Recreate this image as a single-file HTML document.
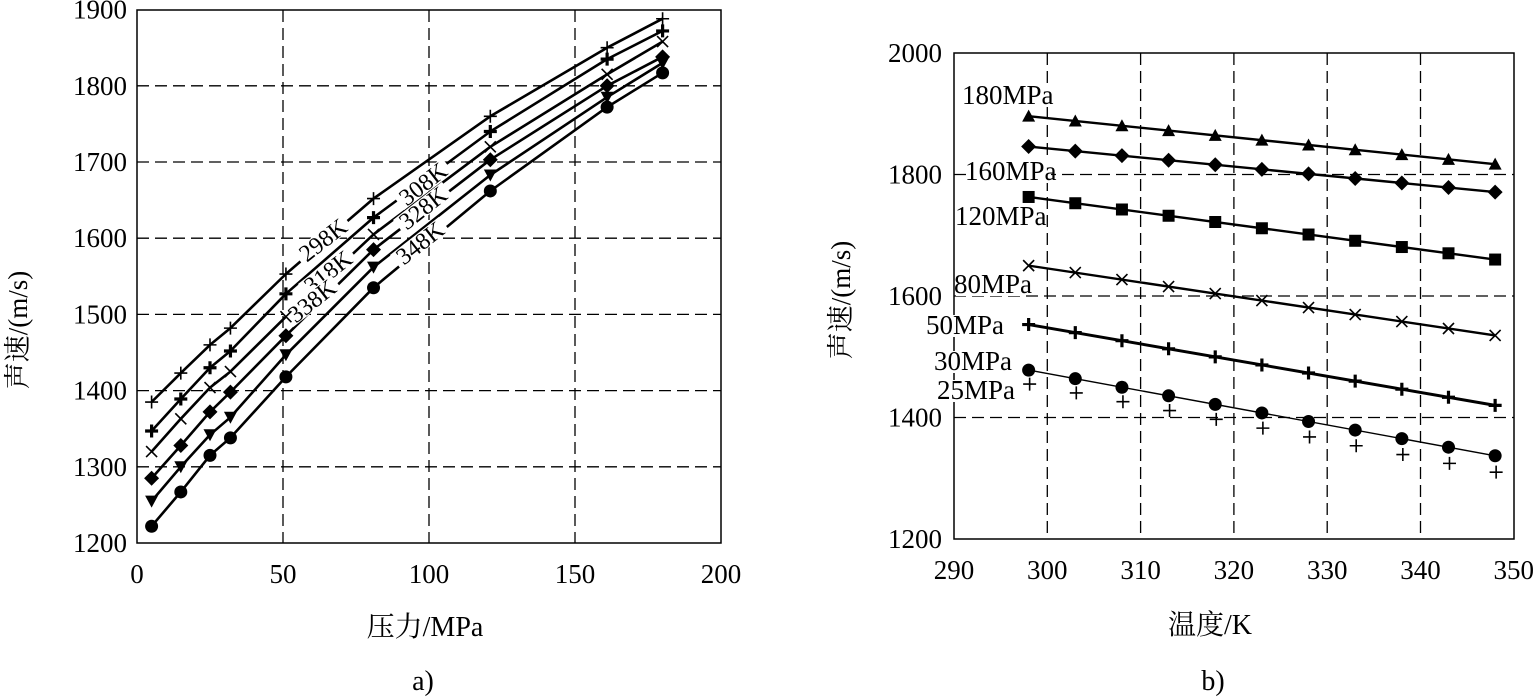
<!DOCTYPE html>
<html><head><meta charset="utf-8"><style>
html,body{margin:0;padding:0;background:#fff;}
svg{display:block;}
text{font-family:"Liberation Serif","Noto Serif CJK SC",serif;fill:#000;}
</style></head><body>
<svg id="s" width="1537" height="697" viewBox="0 0 1537 697" xmlns="http://www.w3.org/2000/svg"></svg>
<script>
const S=document.getElementById('s');let h='';
function ln(x1,y1,x2,y2,w,d){h+=`<line x1="${x1}" y1="${y1}" x2="${x2}" y2="${y2}" stroke="#000" stroke-width="${w||1.5}" ${d?'stroke-dasharray="'+d+'"':''}/>`;}
function tx(x,y,t,sz,anc,extra){h+=`<text x="${x}" y="${y}" font-size="${sz||26}" text-anchor="${anc||'middle'}" ${extra||''}>${t}</text>`;}
function mk(type,x,y){
 const r=6.5;
 if(type=='plus')h+=`<path d="M${x-r} ${y}H${x+r}M${x} ${y-r}V${y+r}" stroke="#000" stroke-width="1.6"/>`;
 if(type=='bplus')h+=`<path d="M${x-r} ${y}H${x+r}M${x} ${y-r}V${y+r}" stroke="#000" stroke-width="3.2"/>`;
 if(type=='x')h+=`<path d="M${x-5.5} ${y-5.5}L${x+5.5} ${y+5.5}M${x-5.5} ${y+5.5}L${x+5.5} ${y-5.5}" stroke="#000" stroke-width="1.6"/>`;
 if(type=='dia')h+=`<path d="M${x} ${y-7.5}L${x+7.5} ${y}L${x} ${y+7.5}L${x-7.5} ${y}Z"/>`;
 if(type=='tri')h+=`<path d="M${x-6.5} ${y-5.5}L${x+6.5} ${y-5.5}L${x} ${y+6.5}Z"/>`;
 if(type=='utri')h+=`<path d="M${x-6.5} ${y+5.5}L${x+6.5} ${y+5.5}L${x} ${y-6.5}Z"/>`;
 if(type=='dot')h+=`<circle cx="${x}" cy="${y}" r="6.5"/>`;
 if(type=='sq')h+=`<rect x="${x-6}" y="${y-6}" width="12" height="12"/>`;
}
// LEFT
const LX=p=>137+p*2.92, LY=v=>543-(v-1200)*0.762;
h+=`<rect x="137" y="10" width="584" height="533" fill="none" stroke="#000" stroke-width="1.5"/>`;
[50,100,150].forEach(p=>ln(LX(p),10,LX(p),543,1.3,'12 6'));
[1300,1400,1500,1600,1700,1800].forEach(v=>ln(137,LY(v),721,LY(v),1.3,'12 6'));
[1200,1300,1400,1500,1600,1700,1800,1900].forEach(v=>tx(127,LY(v)+9,v,27,'end'));
[0,50,100,150,200].forEach(p=>tx(LX(p),583,p,27));
const P=[5,15,25,32,51,81,121,161,180];
const L=[
 ['plus',[1385,1423,1460,1482,1553,1652,1760,1850,1888]],
 ['bplus',[1347,1389,1430,1452,1527,1627,1740,1835,1872]],
 ['x',[1320,1363,1404,1425,1497,1605,1720,1815,1858]],
 ['dia',[1285,1328,1372,1398,1472,1585,1703,1800,1838]],
 ['tri',[1255,1300,1342,1365,1447,1562,1683,1785,1830]],
 ['dot',[1222,1267,1315,1338,1418,1535,1662,1772,1817]]];
L.forEach(([t,vs])=>{
 let d='';vs.forEach((v,i)=>d+=(i?'L':'M')+LX(P[i]).toFixed(1)+' '+LY(v).toFixed(1));
 h+=`<path d="${d}" fill="none" stroke="#000" stroke-width="2.6" stroke-linejoin="round"/>`;
});
[['298K',323,240],['308K',423,184],['318K',328,272],['328K',423,208],['338K',312,301],['348K',420,243]].forEach(([t,x,y])=>{
 h+=`<g transform="translate(${x},${y}) rotate(-38)"><rect x="-31" y="-9" width="62" height="18" fill="#fff"/><text x="0" y="8" font-size="24" text-anchor="middle">${t}</text></g>`;
});
L.forEach(([t,vs])=>vs.forEach((v,i)=>mk(t,LX(P[i]),LY(v))));
h+=`<text transform="translate(27,330) rotate(-90)" font-size="27" text-anchor="middle">声速/(m/s)</text>`;
tx(425,636,'压力/MPa',28);tx(423,690,'a)',28);
// RIGHT
const RX=T=>954+(T-290)*9.33, RY=v=>53+(2000-v)*0.6075;
h+=`<rect x="954" y="53" width="560" height="486" fill="none" stroke="#000" stroke-width="1.5"/>`;
[300,310,320,330,340].forEach(T=>ln(RX(T),53,RX(T),539,1.3,'12 6'));
[1400,1600,1800].forEach(v=>ln(954,RY(v),1514,RY(v),1.3,'12 6'));
[1200,1400,1600,1800,2000].forEach(v=>tx(942,RY(v)+9,v,27,'end'));
[290,300,310,320,330,340,350].forEach(T=>tx(RX(T),579,T,27));
const TS=[298,303,308,313,318,323,328,333,338,343,348];
const R=[['utri',1896,1817,2.4],['dia',1846,1771,2.4],['sq',1763,1660,2.4],['x',1650,1535,2.4],['bplus',1553,1420,3],['dot',1478,1337,1.4]];
R.forEach(([t,a,b,w])=>{
 const f=T=>a+(b-a)*(T-298)/50;
 ln(RX(298),RY(a),RX(348),RY(b),w);
 TS.forEach(T=>mk(t,RX(T),RY(f(T))));
});
TS.forEach(T=>mk('plus',RX(T)+1,RY(1455+(1310-1455)*(T-298)/50)));
[['180MPa',962,104],['160MPa',965,180],['120MPa',955,225],['80MPa',954,293],['50MPa',926,334],['30MPa',934,370],['25MPa',937,399]].forEach(([t,x,y])=>{
 h+=`<rect x="${x+2}" y="${y-19}" width="${t.length*14}" height="22" fill="#fff"/>`;
 tx(x,y,t,27,'start');
});
h+=`<text transform="translate(850,300) rotate(-90)" font-size="27" text-anchor="middle">声速/(m/s)</text>`;
tx(1210,634,'温度/K',28);tx(1213,690,'b)',28);
S.innerHTML=h;
</script>
</body></html>
